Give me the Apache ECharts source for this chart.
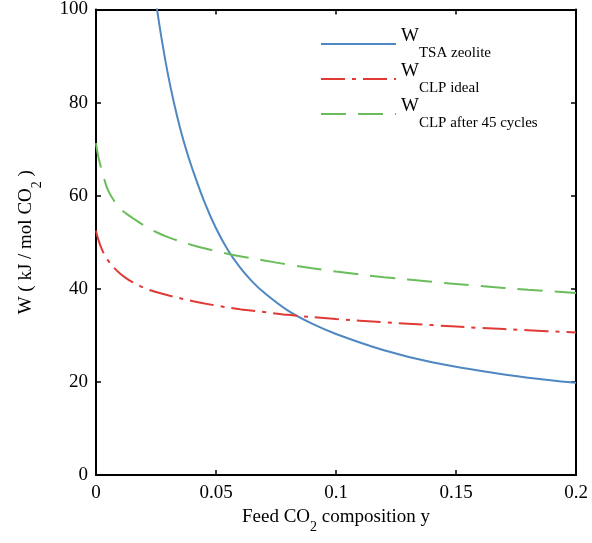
<!DOCTYPE html>
<html>
<head>
<meta charset="utf-8">
<script src="https://cdn.jsdelivr.net/npm/echarts@6/dist/echarts.min.js"></script>
<style>html,body{margin:0;padding:0;background:#fff}#c{width:592px;height:543px}</style>
</head>
<body>
<div id="c"></div>
<script>
// x values (feed CO2 composition y) and W values
const xTSA = [0.025, 0.0275, 0.03, 0.0325, 0.035, 0.0375, 0.04, 0.045, 0.05, 0.055, 0.06, 0.065, 0.07, 0.08, 0.09, 0.1, 0.12, 0.14, 0.16, 0.18, 0.2];
const wTSA = [101.5, 93.2, 86.0, 79.9, 74.6, 70.0, 66.0, 58.9, 53.0, 48.3, 44.6, 41.6, 39.2, 35.3, 32.5, 30.3, 26.8, 24.2, 22.4, 20.9, 19.8];

const xCLP = [0, 0.001, 0.0025, 0.00375, 0.005, 0.0075, 0.01, 0.0125, 0.015, 0.02, 0.025, 0.03, 0.04, 0.05, 0.06, 0.07, 0.08, 0.1, 0.12, 0.14, 0.16, 0.18, 0.2];
const wCLPideal = [52.5, 50.5, 48.4, 47.1, 46.1, 44.5, 43.3, 42.3, 41.5, 40.2, 39.3, 38.6, 37.4, 36.4, 35.6, 35, 34.4, 33.5, 32.8, 32.2, 31.6, 31.1, 30.6];
const wCLP45 = [71.3, 68.3, 65.3, 63, 61.2, 58.9, 57.3, 56.2, 55.3, 53.6, 52.2, 51.1, 49.4, 48.1, 47, 46.1, 45.2, 43.7, 42.5, 41.5, 40.6, 39.8, 39.1];

const seriesNames = ['TSA zeolite', 'CLP ideal', 'CLP after 45 cycles'];
const xTicks = { min: 0, max: 0.2, interval: 0.05 };
const yTicks = { min: 0, max: 100, interval: 20 };

const pair = (xs, ys) => xs.map((x, i) => [x, ys[i]]);
const FONT = 'Liberation Serif';

const chart = echarts.init(document.getElementById('c'), null, { renderer: 'canvas' });
const axisCommon = {
  axisLine: { show: true, onZero: false, lineStyle: { color: '#000', width: 2 } },
  axisTick: { show: true, inside: true, length: 5, lineStyle: { color: '#000', width: 1.5 } },
  splitLine: { show: false }
};
const labelStyle = { color: '#000', fontFamily: FONT, fontSize: 19 };

chart.setOption({
  animation: false,
  backgroundColor: '#fff',
  grid: { left: 96, right: 16, top: 9, bottom: 68, containLabel: false },
  xAxis: [
    Object.assign({
      type: 'value', position: 'bottom', min: xTicks.min, max: xTicks.max, interval: xTicks.interval,
      axisLabel: Object.assign({ margin: 9, formatter: v => String(+v.toFixed(2)) }, labelStyle),
      name: '{m|Feed CO}{s|2}{m| composition y}',
      nameLocation: 'middle', nameGap: 36,
      nameTextStyle: {
        fontFamily: FONT, color: '#000',
        rich: {
          m: { fontFamily: FONT, fontSize: 19, lineHeight: 19, color: '#000', padding: [0, 0, 7, 0] },
          s: { fontFamily: FONT, fontSize: 14, lineHeight: 14, color: '#000', padding: [12, 0, 0, 0] }
        }
      }
    }, axisCommon),
    Object.assign({
      type: 'value', position: 'top', min: xTicks.min, max: xTicks.max, interval: xTicks.interval,
      axisLabel: { show: false }
    }, axisCommon)
  ],
  yAxis: [
    Object.assign({
      type: 'value', position: 'left', min: yTicks.min, max: yTicks.max, interval: yTicks.interval,
      axisLabel: Object.assign({ margin: 8 }, labelStyle),
      name: '{m|W ( kJ / mol CO}{s|2}{m| )}',
      nameLocation: 'middle', nameGap: 56,
      nameTextStyle: {
        fontFamily: FONT, color: '#000',
        rich: {
          m: { fontFamily: FONT, fontSize: 19, lineHeight: 19, color: '#000', padding: [0, 0, 9, 0] },
          s: { fontFamily: FONT, fontSize: 14, lineHeight: 14, color: '#000', padding: [14, 0, 0, 0] }
        }
      }
    }, axisCommon),
    Object.assign({
      type: 'value', position: 'right', min: yTicks.min, max: yTicks.max, interval: yTicks.interval,
      axisLabel: { show: false }
    }, axisCommon)
  ],
  legend: {
    orient: 'vertical', left: 320, top: 27, padding: 0, itemGap: 1,
    itemWidth: 75, itemHeight: 14,
    itemStyle: { opacity: 0 },
    data: seriesNames,
    formatter: n => '{w|W}{s|' + n + '}',
    textStyle: {
      fontFamily: FONT, color: '#000',
      rich: {
        w: { fontFamily: FONT, fontSize: 19, lineHeight: 19, color: '#000', padding: [0, 0, 15, 0] },
        s: { fontFamily: FONT, fontSize: 15, lineHeight: 15, color: '#000', padding: [19, 0, 0, 0] }
      }
    }
  },
  series: [
    {
      name: seriesNames[0], type: 'line', xAxisIndex: 0, yAxisIndex: 0,
      data: pair(xTSA, wTSA), symbol: 'none', smooth: 0.35, clip: true,
      lineStyle: { color: '#4f87c2', width: 2 }, itemStyle: { color: '#4f87c2' }
    },
    {
      name: seriesNames[1], type: 'line', xAxisIndex: 0, yAxisIndex: 0,
      data: pair(xCLP, wCLPideal), symbol: 'none', smooth: 0.35, clip: true,
      lineStyle: { color: '#e03a36', width: 2, type: [24, 7, 4, 7] }, itemStyle: { color: '#e03a36' }
    },
    {
      name: seriesNames[2], type: 'line', xAxisIndex: 0, yAxisIndex: 0,
      data: pair(xCLP, wCLP45), symbol: 'none', smooth: 0.35, clip: true,
      lineStyle: { color: '#6bbd5b', width: 2, type: [25, 12] }, itemStyle: { color: '#6bbd5b' }
    }
  ]
});
</script>
</body>
</html>
